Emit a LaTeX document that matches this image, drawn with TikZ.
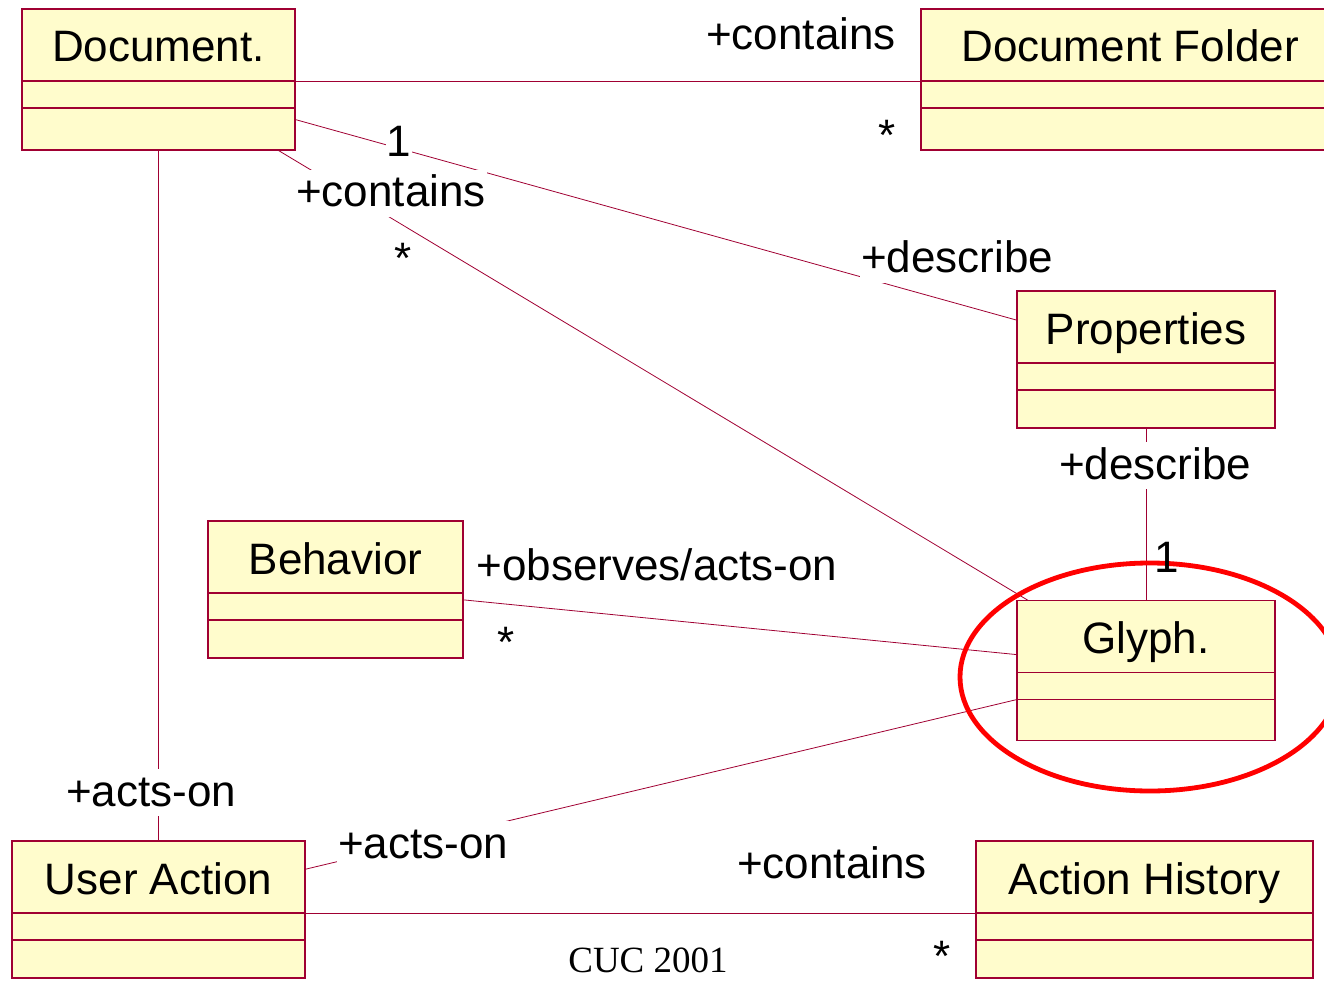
\documentclass[tikz,border=0pt]{standalone}
\usepackage{fontspec}
\setmainfont{Liberation Sans}
\newfontfamily\serifcuc{Liberation Serif}
\usetikzlibrary{positioning}

\begin{document}
\begin{tikzpicture}[x=1pt, y=-1pt, every node/.style={align=center},
    clsname/.style={draw=clsborder, fill=clsfill, line width=1.2pt, inner sep=0pt, outer sep=0pt,
      minimum height=72pt, text height=34pt, text depth=0pt, font=\fontsize{44}{48}\selectfont},
    clspart/.style={draw=clsborder, fill=clsfill, line width=1.2pt, inner sep=0pt, outer sep=0pt},
    assoc/.style={draw=clsborder, line width=0.8pt},
    rolelbl/.style={anchor=base, fill=white, inner sep=1pt, text height=36pt, text depth=9pt,
      font=\fontsize{44}{48}\selectfont}]
      \colorlet{clsfill}{yellow!20} \definecolor{clsborder}{RGB}{160,0,50}

      \useasboundingbox (0,0) rectangle (1324,981);

      \foreach \n/\x/\y/\w/\h/\t in {doc/158.5/45/273/42/Document., folder/1130/45/418/42/Document Folder,
          prop/1146/327/258/38/Properties, beh/335.5/557/255/38/Behavior, glyph/1146/636.5/258/41/Glyph.,
          ua/158.5/877/293/38/User Action, ah/1144.5/877/337/38/Action History} {
        \node[clsname, minimum width=\w pt] (\n) at (\x,\y) {\t};
        \node[clspart, minimum width=\w pt, minimum height=27pt, below=0pt of \n] (\n-a) {};
        \node[clspart, minimum width=\w pt, minimum height=\h pt, below=0pt of \n-a] (\n-o) {};
      }

      \foreach \a/\b in {doc.south east/folder.south west, doc-o.4/prop.177, doc-o.-10/glyph.163,
          doc-o.south/ua.north, prop-o.south/glyph.north, beh-a.3/glyph.188,
          glyph-a.south west/ua.3, ua.south east/ah.south west} {
        \draw[assoc] (\a) -- (\b);
      }

      \draw[red, line width=4.8pt] (1150,677) ellipse [x radius=190, y radius=114];

      \node[rolelbl] (contfolder) at (801,50) {+contains};
      \node[rolelbl] (multfolder) at (887,151) {*};
      \node[rolelbl] (onedoc) at (399,157) {1};
      \node[rolelbl] (contglyph) at (391,207) {+contains};
      \node[rolelbl] (multglyph) at (403,274) {*};
      \node[rolelbl] (descdoc) at (957,273) {+describe};
      \node[rolelbl] (descglyph) at (1155,479) {+describe};
      \node[rolelbl, fill=none] (oneprop) at (1167,572) {1};
      \node[rolelbl] (observes) at (657,580) {+observes/acts-on};
      \node[rolelbl] (multbeh) at (506,657) {*};
      \node[rolelbl] (actsdoc) at (151,806) {+acts-on};
      \node[rolelbl] (actsglyph) at (423,858) {+acts-on};
      \node[rolelbl] (conthist) at (832,878) {+contains};
      \node[rolelbl, text height=32pt, text depth=0pt, inner sep=0pt] (multhist) at (942,971) {*};
      \node[anchor=base, inner sep=0pt, font=\serifcuc\fontsize{37}{40}\selectfont] (cuc) at (648,972) {CUC 2001};
    \end{tikzpicture}
\end{document}
